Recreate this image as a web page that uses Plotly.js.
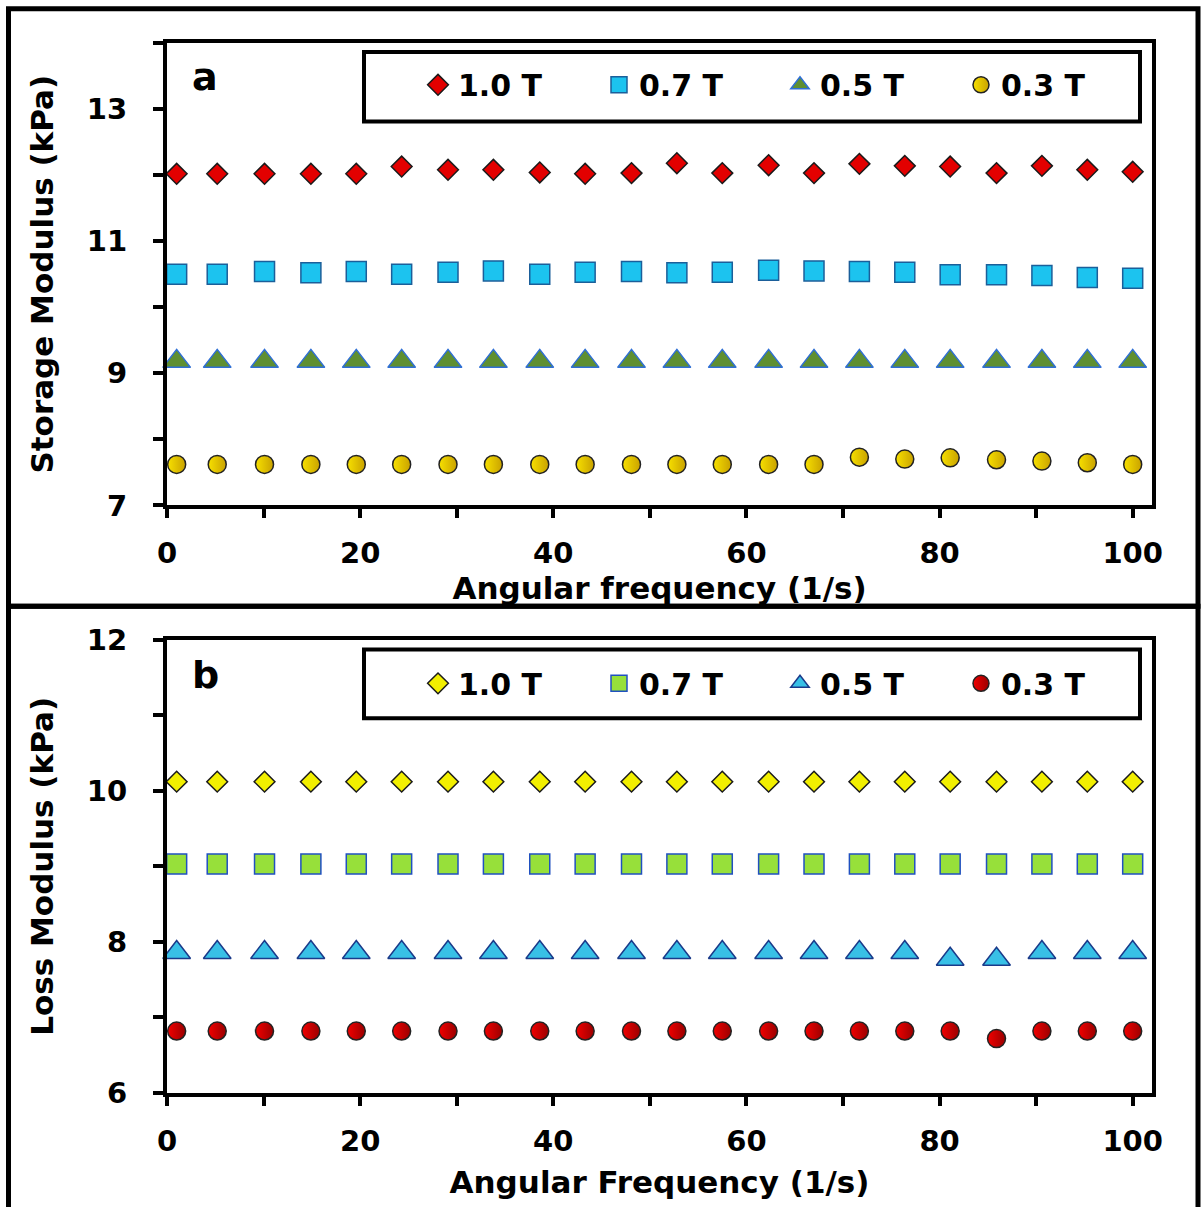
<!DOCTYPE html>
<html><head><meta charset="utf-8">
<script src="https://cdn.plot.ly/plotly-3.0.1.min.js"></script>
<style>html,body{margin:0;padding:0;background:#fff;} #chart{width:1203px;height:1207px;}</style>
</head><body><div id="chart"></div>
<script>
// ---- data ----
const frequency = [1, 5.2, 10.1, 14.9, 19.6, 24.3, 29.1, 33.8, 38.6, 43.3, 48.1, 52.8, 57.5, 62.3, 67, 71.7, 76.4, 81.1, 85.9, 90.6, 95.3, 100];
const seriesNames = ['1.0 T', '0.7 T', '0.5 T', '0.3 T'];

const storage_1_0T = [12.02, 12.02, 12.02, 12.02, 12.02, 12.13, 12.08, 12.08, 12.04, 12.02, 12.03, 12.18, 12.03, 12.15, 12.03, 12.17, 12.14, 12.13, 12.03, 12.14, 12.08, 12.05];
const storage_0_7T = [10.50, 10.50, 10.54, 10.52, 10.54, 10.50, 10.53, 10.55, 10.50, 10.53, 10.54, 10.52, 10.53, 10.56, 10.55, 10.54, 10.53, 10.49, 10.49, 10.48, 10.45, 10.44];
const storage_0_5T = [9.18, 9.18, 9.18, 9.18, 9.18, 9.18, 9.18, 9.18, 9.18, 9.18, 9.18, 9.18, 9.18, 9.18, 9.18, 9.18, 9.18, 9.18, 9.18, 9.18, 9.18, 9.18];
const storage_0_3T = [7.62, 7.62, 7.62, 7.62, 7.62, 7.62, 7.62, 7.62, 7.62, 7.62, 7.62, 7.62, 7.62, 7.62, 7.62, 7.73, 7.70, 7.72, 7.69, 7.67, 7.645, 7.62];

const loss_1_0T = [10.12, 10.12, 10.12, 10.12, 10.12, 10.12, 10.12, 10.12, 10.12, 10.12, 10.12, 10.12, 10.12, 10.12, 10.12, 10.12, 10.12, 10.12, 10.12, 10.12, 10.12, 10.12];
const loss_0_7T = [9.03, 9.03, 9.03, 9.03, 9.03, 9.03, 9.03, 9.03, 9.03, 9.03, 9.03, 9.03, 9.03, 9.03, 9.03, 9.03, 9.03, 9.03, 9.03, 9.03, 9.03, 9.03];
const loss_0_5T = [7.86, 7.86, 7.86, 7.86, 7.86, 7.86, 7.86, 7.86, 7.86, 7.86, 7.86, 7.86, 7.86, 7.86, 7.86, 7.86, 7.86, 7.77, 7.77, 7.86, 7.86, 7.86];
const loss_0_3T = [6.82, 6.82, 6.82, 6.82, 6.82, 6.82, 6.82, 6.82, 6.82, 6.82, 6.82, 6.82, 6.82, 6.82, 6.82, 6.82, 6.82, 6.82, 6.72, 6.82, 6.82, 6.82];

const xTickVals = [0, 10, 20, 30, 40, 50, 60, 70, 80, 90, 100];
const xTickText = ['0', '', '20', '', '40', '', '60', '', '80', '', '100'];
const storageTickVals = [7, 8, 9, 10, 11, 12, 13, 14];
const storageTickText = ['7', '', '9', '', '11', '', '13', ''];
const lossTickVals = [6, 7, 8, 9, 10, 11, 12];
const lossTickText = ['6', '', '8', '', '10', '', '12'];

// ---- layout helpers (pixel geometry) ----
const W = 1203, H = 1207;
const M = {l: 167, r: 51, t: 43, b: 108};
const PW = W - M.l - M.r, PH = H - M.t - M.b;
const px = v => (v - M.l) / PW;
const py = v => (H - M.b - v) / PH;

const FONT = 'DejaVu Sans, Verdana, sans-serif';
const tickFont = {family: FONT, size: 29, color: '#000', weight: 'bold'};
const titleFont = {family: FONT, size: 31, color: '#000', weight: 'bold'};
const legFont = {family: FONT, size: 30, color: '#000', weight: 'bold'};

function trace(y, name, sym, size, fill, lineColor, lineW, xa, ya, leg, grad) {
  const m = {symbol: sym, size: size, color: fill, line: {color: lineColor, width: lineW}};
  if (grad) m.gradient = grad;
  return {x: frequency, y: y, name: name, type: 'scatter', mode: 'markers',
          xaxis: xa, yaxis: ya, legend: leg, marker: m, cliponaxis: false, hoverinfo: 'x+y+name'};
}

const data = [
  trace(storage_1_0T, seriesNames[0], 'diamond', 16, '#e30000', '#1a1a1a', 1.5, 'x', 'y', 'legend'),
  trace(storage_0_7T, seriesNames[1], 'square', 20, '#1cc3ef', '#1b5f9a', 1.5, 'x', 'y', 'legend'),
  trace(storage_0_5T, seriesNames[2], 'triangle-up', 24, '#5f8f31', '#2f6fd6', 1.5, 'x', 'y', 'legend'),
  trace(storage_0_3T, seriesNames[3], 'circle', 18, '#f7e000', '#222', 1.5, 'x', 'y', 'legend', {type: 'horizontal', color: '#c9a200'}),
  trace(loss_1_0T, seriesNames[0], 'diamond', 16, '#f2ef00', '#1a1a1a', 1.5, 'x2', 'y2', 'legend2'),
  trace(loss_0_7T, seriesNames[1], 'square', 20, '#97e03a', '#2050c0', 1.5, 'x2', 'y2', 'legend2'),
  trace(loss_0_5T, seriesNames[2], 'triangle-up', 24, '#38c0e6', '#1a3a8a', 1.5, 'x2', 'y2', 'legend2'),
  trace(loss_0_3T, seriesNames[3], 'circle', 18, '#f20000', '#222', 1.5, 'x2', 'y2', 'legend2', {type: 'horizontal', color: '#9a0000'})
];

function xAxis(anchor, title, titleStandoff) {
  return {anchor: anchor, domain: [0, 1], range: [0, 102], tickmode: 'array', tickvals: xTickVals, ticktext: xTickText,
          ticks: 'outside', ticklen: 9, tickwidth: 4, tickcolor: '#000', showline: true, linewidth: 4, linecolor: '#000',
          mirror: true, showgrid: false, zeroline: false, tickfont: tickFont, ticklabelstandoff: 10,
          automargin: true, title: {text: title, font: titleFont, standoff: titleStandoff}};
}
function yAxis(anchor, dom, range, vals, text, title) {
  return {anchor: anchor, domain: dom, range: range, tickmode: 'array', tickvals: vals, ticktext: text,
          ticks: 'outside', ticklen: 10, tickwidth: 4, tickcolor: '#000', showline: true, linewidth: 4, linecolor: '#000',
          mirror: true, showgrid: false, zeroline: false, tickfont: tickFont, ticklabelstandoff: 20,
          automargin: true, title: {text: title, font: titleFont, standoff: 25}};
}

function legendCfg(yc) {
  return {orientation: 'h', x: px(418), xanchor: 'left', y: py(yc), yanchor: 'middle', font: legFont,
          bgcolor: 'rgba(0,0,0,0)', borderwidth: 0, entrywidth: 136, entrywidthmode: 'pixels', traceorder: 'normal'};
}

const frameLine = {color: '#000', width: 5};
const boxLine = {color: '#000', width: 4};
const shapes = [
  {type: 'rect', xref: 'paper', yref: 'paper', x0: px(8.5), x1: px(1198), y0: py(609.5), y1: py(8.5), line: frameLine, layer: 'below'},
  {type: 'rect', xref: 'paper', yref: 'paper', x0: px(8.5), x1: px(1198), y0: py(1230), y1: py(609.5), line: frameLine, layer: 'below'},
  {type: 'rect', xref: 'paper', yref: 'paper', x0: px(364), x1: px(1140), y0: py(122), y1: py(52), line: boxLine},
  {type: 'rect', xref: 'paper', yref: 'paper', x0: px(364), x1: px(1140), y0: py(722), y1: py(653), line: boxLine}
];

const annotations = [
  {text: 'a', xref: 'paper', yref: 'paper', x: px(205), y: py(77), xanchor: 'center', yanchor: 'middle', showarrow: false,
   font: {family: FONT, size: 38, color: '#000', weight: 'bold'}},
  {text: 'b', xref: 'paper', yref: 'paper', x: px(205), y: py(679), xanchor: 'center', yanchor: 'middle', showarrow: false,
   font: {family: FONT, size: 38, color: '#000', weight: 'bold'}}
];

const layout = {
  width: W, height: H, margin: M, paper_bgcolor: '#fff', plot_bgcolor: '#fff',
  showlegend: true,
  xaxis: xAxis('y', 'Angular frequency (1/s)', 0),
  yaxis: yAxis('x', [py(508), py(43)], [7, 14], storageTickVals, storageTickText, 'Storage Modulus (kPa)'),
  xaxis2: xAxis('y2', 'Angular Frequency (1/s)', 16),
  yaxis2: yAxis('x2', [py(1099), py(643)], [6, 12], lossTickVals, lossTickText, 'Loss Modulus (kPa)'),
  legend: legendCfg(85),
  legend2: legendCfg(687),
  shapes: shapes,
  annotations: annotations
};

Plotly.newPlot('chart', data, layout, {displayModeBar: false, responsive: false});
</script>
</body></html>
